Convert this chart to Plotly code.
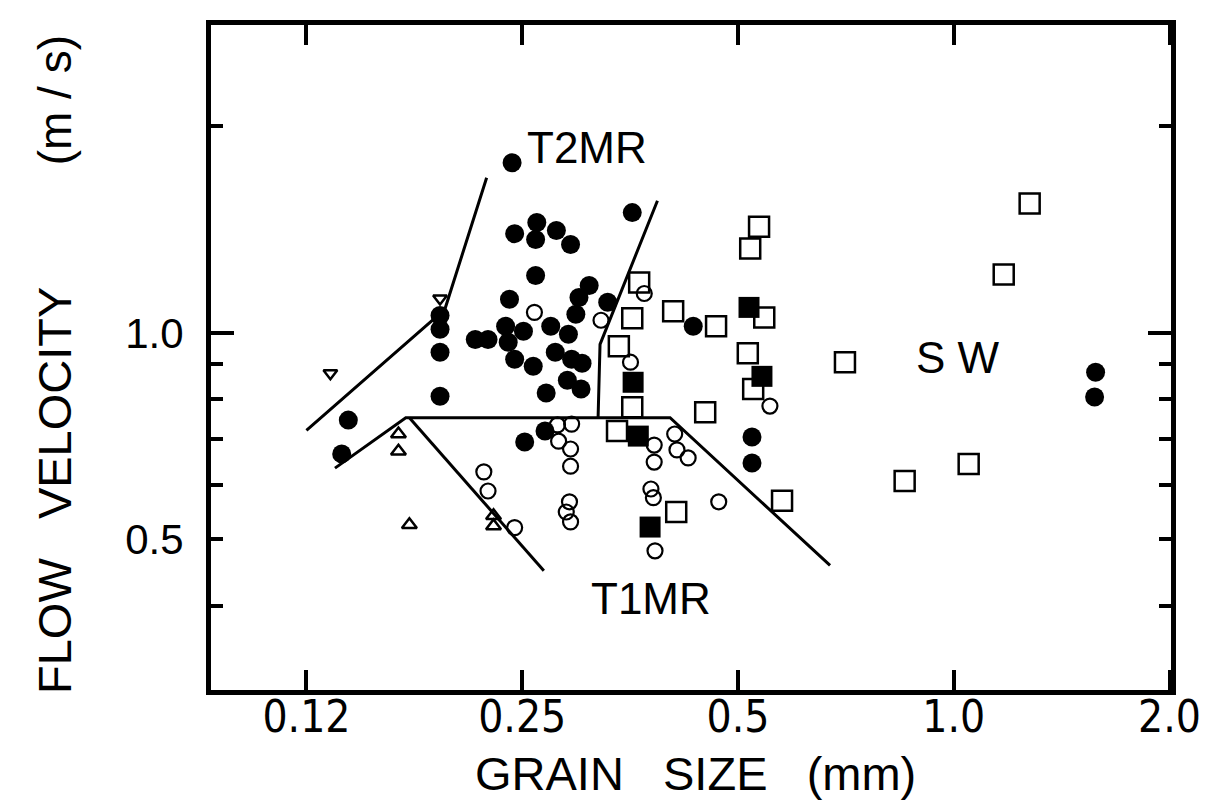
import numpy as np
import plotly.graph_objects as go

# ---------------- data (grain size in mm, flow velocity in m/s) ----------------
fc_x = [0.242, 0.244, 0.262, 0.261, 0.279, 0.292, 0.261, 0.310, 0.300, 0.240,
        0.329, 0.356, 0.297, 0.237, 0.251, 0.215, 0.224, 0.239, 0.274, 0.290,
        0.244, 0.259, 0.278, 0.293, 0.303, 0.289, 0.302, 0.270, 0.433, 0.252,
        0.269, 0.523, 0.523, 0.192, 0.192, 0.192, 0.192, 0.143, 0.140, 1.577,
        1.572]
fc_y = [1.770, 1.395, 1.448, 1.368, 1.410, 1.345, 1.212, 1.172, 1.126, 1.119,
        1.108, 1.497, 1.064, 1.022, 1.005, 0.978, 0.978, 0.969, 1.022, 0.995,
        0.915, 0.894, 0.937, 0.915, 0.903, 0.853, 0.828, 0.817, 1.022, 0.693,
        0.719, 0.705, 0.646, 1.060, 1.012, 0.937, 0.808, 0.746, 0.666, 0.876,
        0.806]

oc_x = [0.260, 0.322, 0.370, 0.354, 0.554, 0.280, 0.293, 0.281, 0.292, 0.292,
        0.221, 0.224, 0.291, 0.288, 0.292, 0.244, 0.408, 0.382, 0.411, 0.426,
        0.382, 0.378, 0.381, 0.470, 0.383]
oc_y = [1.071, 1.043, 1.141, 0.906, 0.782, 0.734, 0.736, 0.695, 0.677, 0.639,
        0.627, 0.588, 0.567, 0.548, 0.530, 0.520, 0.712, 0.686, 0.675, 0.657,
        0.648, 0.592, 0.575, 0.567, 0.481]

os_x = [0.535, 0.520, 0.364, 0.356, 0.406, 0.466, 0.341, 0.516, 0.544, 0.525,
        0.356, 0.450, 0.339, 0.576, 0.410, 0.854, 1.049, 0.705, 1.174, 1.276]
os_y = [1.428, 1.327, 1.184, 1.050, 1.075, 1.022, 0.956, 0.934, 1.053, 0.828,
        0.779, 0.766, 0.719, 0.569, 0.548, 0.608, 0.644, 0.906, 1.216, 1.543]

fs_x = [0.518, 0.540, 0.357, 0.363, 0.377]
fs_y = [1.089, 0.864, 0.847, 0.707, 0.521]

tu_x = [0.168, 0.168, 0.174, 0.228, 0.228]
tu_y = [0.712, 0.672, 0.525, 0.541, 0.523]

td_x = [0.192, 0.135]
td_y = [1.122, 0.873]

# regime boundaries
t2_left_x = [0.125, 0.195, 0.223]
t2_left_y = [0.721, 1.082, 1.683]
t2_right_x = [0.386, 0.321, 0.319]
t2_right_y = [1.558, 0.962, 0.752]
t1_outer_x = [0.137, 0.172, 0.402, 0.672]
t1_outer_y = [0.635, 0.752, 0.752, 0.458]
t1_inner_x = [0.174, 0.268]
t1_inner_y = [0.752, 0.450]

# regime labels
region_labels = ["T2MR", "T1MR", "S W"]
region_x = [0.308, 0.378, 1.013]
region_y = [1.861, 0.410, 0.921]

# axis ticks
x_tickvals = [0.125, 0.25, 0.5, 1.0, 2.0]
x_ticktext = ["0.12", "0.25", "0.5", "1.0", "2.0"]
y_tickvals = [0.4, 0.5, 0.6, 0.7, 0.8, 0.9, 1.0, 2.0]
y_ticktext = ["", "0.5", "", "", "", "", "1.0", ""]

FONT = "Liberation Sans, Arial, Helvetica, sans-serif"
NARROW = "Liberation Sans Narrow, Arial Narrow, DejaVu Sans Condensed, Liberation Sans, sans-serif"
Y_RANGE = [np.log10(0.3015), np.log10(2.81)]

fig = go.Figure()

for bx, by in [(t2_left_x, t2_left_y), (t2_right_x, t2_right_y),
               (t1_outer_x, t1_outer_y), (t1_inner_x, t1_inner_y)]:
    fig.add_trace(go.Scatter(x=bx, y=by, mode="lines",
                             line=dict(color="black", width=3),
                             hoverinfo="skip", showlegend=False))


def add_markers(xs, ys, symbol, size, lw):
    fig.add_trace(go.Scatter(
        x=xs, y=ys, mode="markers", showlegend=False,
        marker=dict(symbol=symbol, size=size, color="black",
                    line=dict(color="black", width=lw))))


add_markers(os_x, os_y, "square-open", 20, 2.5)
add_markers(oc_x, oc_y, "circle-open", 15, 2.2)
add_markers(tu_x, tu_y, "triangle-up-open", 13, 2.5)
add_markers(td_x, td_y, "triangle-down-open", 12, 2.5)
add_markers(fs_x, fs_y, "square", 21, 0)
add_markers(fc_x, fc_y, "circle", 19, 0)

# empty trace so the overlay axis carrying the long 1.0 tick is drawn
fig.add_trace(go.Scatter(x=[], y=[], yaxis="y2", showlegend=False))

for t, xv, yv in zip(region_labels, region_x, region_y):
    fig.add_annotation(x=np.log10(xv), y=np.log10(yv), xref="x", yref="y",
                       text=t, showarrow=False,
                       font=dict(family=FONT, size=44, color="black"))

# axis titles
fig.add_annotation(x=0.505, xref="paper", y=-0.126, yref="paper",
                   xanchor="center", yanchor="middle", showarrow=False,
                   text="GRAIN\u00a0\u00a0 SIZE\u00a0\u00a0 (mm)",
                   font=dict(family=FONT, size=47, color="black"))
fig.add_annotation(x=-0.163, xref="paper", y=0.30, yref="paper",
                   xanchor="center", yanchor="middle", showarrow=False,
                   textangle=-90, text="FLOW\u00a0\u00a0 VELOCITY",
                   font=dict(family=FONT, size=47, color="black"))
fig.add_annotation(x=-0.163, xref="paper", y=0.886, yref="paper",
                   xanchor="center", yanchor="middle", showarrow=False,
                   textangle=-90, text="(m / s)",
                   font=dict(family=FONT, size=46, color="black"))

fig.update_layout(
    width=1228, height=801,
    margin=dict(l=203, r=65, t=15, b=119),
    paper_bgcolor="white", plot_bgcolor="white",
    showlegend=False,
    xaxis=dict(type="log", range=[np.log10(0.092), np.log10(2.0) + 0.002],
               tickvals=x_tickvals, ticktext=x_ticktext,
               ticks="inside", ticklen=20, tickwidth=4, tickcolor="black",
               showline=True, linewidth=5, linecolor="black", mirror="ticks",
               showgrid=False, zeroline=False, ticklabelstandoff=-16,
               tickfont=dict(family=NARROW, size=44, color="black")),
    yaxis=dict(type="log", range=Y_RANGE,
               tickvals=y_tickvals, ticktext=y_ticktext,
               ticks="inside", ticklen=12, tickwidth=4, tickcolor="black",
               showline=True, linewidth=5, linecolor="black", mirror="ticks",
               showgrid=False, zeroline=False, ticklabelstandoff=14,
               tickfont=dict(family=FONT, size=42, color="black")),
    yaxis2=dict(type="log", range=Y_RANGE,
                overlaying="y", anchor="x", side="left",
                tickvals=[1.0], ticks="inside", ticklen=23, tickwidth=4,
                tickcolor="black", showticklabels=False,
                showline=True, linewidth=5, linecolor="black", mirror="ticks",
                showgrid=False, zeroline=False),
)

fig.write_html("out.html")
